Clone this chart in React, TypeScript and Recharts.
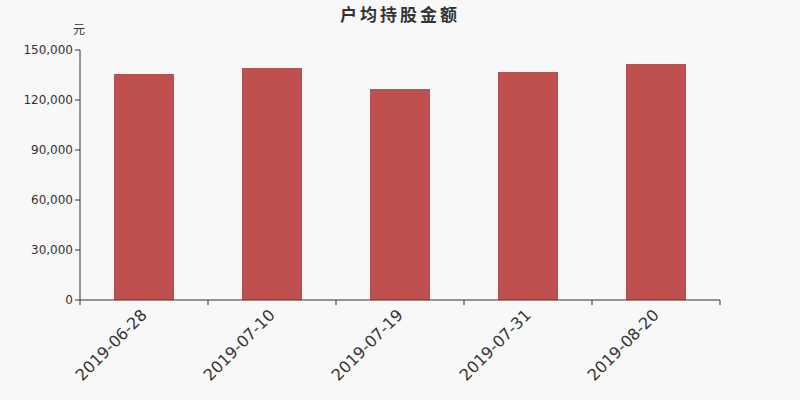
import React from 'react';
import { BarChart, Bar, XAxis, YAxis } from 'recharts';

const dates = ['2019-06-28', '2019-07-10', '2019-07-19', '2019-07-31', '2019-08-20'];
const amounts = [135600, 139200, 126600, 136800, 141600];
const yTicks = [0, 30000, 60000, 90000, 120000, 150000];

const data = dates.map((d, i) => ({ date: d, amount: amounts[i] }));

const BAND = 128;

const DateTick = ({ x, y, payload, index }: any) => {
  return (
    <g>
      <line x1={x - BAND / 2} y1={y - 8} x2={x - BAND / 2} y2={y - 3} stroke="#333" />
      {index === dates.length - 1 && (
        <line x1={x + BAND / 2} y1={y - 8} x2={x + BAND / 2} y2={y - 3} stroke="#333" />
      )}
      <text
        x={x + 4}
        y={y + 8}
        textAnchor="end"
        fill="#333"
        fontSize={16}
        fontFamily="DejaVu Sans, sans-serif"
        transform={`rotate(-45, ${x + 4}, ${y + 8})`}
      >
        {payload.value}
      </text>
    </g>
  );
};

const App: React.FC = () => {
  return (
    <div
      style={{
        position: 'fixed',
        left: 0,
        top: 0,
        width: 800,
        height: 400,
        background: '#f8f8f8',
        fontFamily: 'DejaVu Sans, "Noto Sans CJK SC", sans-serif',
      }}
    >
      <div
        style={{
          position: 'absolute',
          top: 1,
          left: 0,
          width: 800,
          textAlign: 'center',
          fontSize: 17,
          letterSpacing: 3,
          fontWeight: 'bold',
          color: '#333',
          fontFamily: '"Noto Sans CJK SC", sans-serif',
        }}
      >
        户均持股金额
      </div>
      <div
        style={{
          position: 'absolute',
          left: 73,
          top: 20,
          fontSize: 12,
          color: '#333',
          fontFamily: '"Noto Sans CJK SC", sans-serif',
        }}
      >
        元
      </div>
      <BarChart
        width={800}
        height={400}
        data={data}
        margin={{ top: 50, right: 80, left: 0, bottom: 30 }}
      >
        <XAxis
          dataKey="date"
          height={70}
          stroke="#333"
          tickLine={false}
          tick={<DateTick />}
          interval={0}
        />
        <YAxis
          width={80}
          domain={[0, 150000]}
          ticks={yTicks}
          stroke="#333"
          tickSize={5}
          tick={{ fill: '#333', fontSize: 12, fontFamily: 'DejaVu Sans, sans-serif' }}
          tickFormatter={(v: number) => v.toLocaleString('en-US')}
        />
        <Bar dataKey="amount" fill="#c0504d" barSize={60} isAnimationActive={false} />
      </BarChart>
    </div>
  );
};

export default App;
